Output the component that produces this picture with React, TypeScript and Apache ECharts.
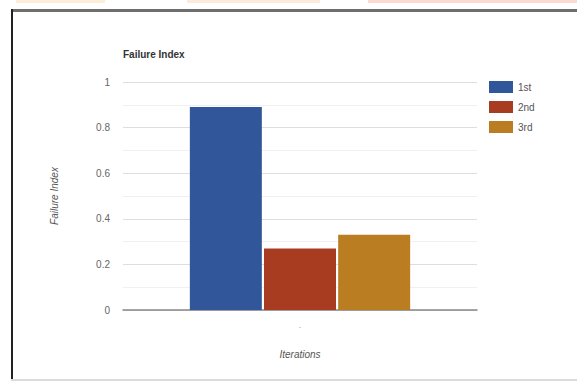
import React, { useEffect, useRef } from "react";
import * as echarts from "echarts";

// Chart data
const categories = ["."];
const seriesNames = ["1st", "2nd", "3rd"];
const seriesValues = [[0.89], [0.27], [0.33]];
const seriesColors = ["#31579a", "#a83c21", "#bb7d21"];
const yTicks = { min: 0, max: 1, interval: 0.2 };

const FONT = "Arial, 'Liberation Sans', sans-serif";

export default function App() {
  const ref = useRef<HTMLDivElement>(null);

  useEffect(() => {
    const prevMargin = document.body.style.margin;
    document.body.style.margin = "0";
    const chart = echarts.init(ref.current!, undefined, { renderer: "svg" });
    chart.setOption({
      animation: false,
      backgroundColor: "#ffffff",
      textStyle: { fontFamily: FONT },
      title: {
        text: "Failure Index",
        left: 118,
        top: 44,
        textStyle: { fontSize: 10, fontWeight: "bold", color: "#333", fontFamily: FONT },
      },
      legend: {
        orient: "vertical",
        left: 484,
        top: 76,
        itemWidth: 24,
        itemHeight: 12,
        itemGap: 8,
        icon: "rect",
        data: seriesNames,
        textStyle: { fontSize: 10, color: "#555", fontFamily: FONT },
      },
      grid: { left: 123, right: 100, top: 82, bottom: 71 },
      xAxis: {
        type: "category",
        data: categories,
        name: "Iterations",
        nameLocation: "middle",
        nameGap: 39,
        nameTextStyle: { fontSize: 10, fontStyle: "italic", color: "#555", fontFamily: FONT },
        axisLine: { show: true, lineStyle: { color: "#888", width: 1.5 } },
        axisTick: { show: false },
        axisLabel: { margin: 10, fontSize: 9, color: "#999" },
      },
      yAxis: {
        type: "value",
        min: yTicks.min,
        max: yTicks.max,
        interval: yTicks.interval,
        name: "Failure Index",
        nameLocation: "middle",
        nameRotate: 90,
        nameGap: 64,
        nameTextStyle: { fontSize: 10, fontStyle: "italic", color: "#555", fontFamily: FONT },
        axisLine: { show: false },
        axisTick: { show: false },
        axisLabel: { margin: 13, fontSize: 10, color: "#666", fontFamily: FONT },
        splitLine: { lineStyle: { color: "#dedede", width: 1 } },
        minorTick: { show: false, splitNumber: 2 },
        minorSplitLine: { show: true, lineStyle: { color: "#f0f0f0", width: 1 } },
      },
      series: seriesNames.map((name, i) => ({
        name,
        type: "bar",
        data: seriesValues[i],
        barWidth: 72,
        barGap: "3%",
        itemStyle: { color: seriesColors[i] },
      })),
      graphic: [
        { type: "rect", shape: { x: 16, y: 0, width: 89, height: 3 }, style: { fill: "#fdecd9" } },
        { type: "rect", shape: { x: 187, y: 0, width: 133, height: 3 }, style: { fill: "#fdeadb" } },
        { type: "rect", shape: { x: 368, y: 0, width: 209, height: 3 }, style: { fill: "#fbdad4" } },
        { type: "rect", shape: { x: 11, y: 9, width: 566, height: 3 }, style: { fill: "#6e6e6e" } },
        { type: "rect", shape: { x: 11, y: 9, width: 2, height: 372 }, style: { fill: "#222" } },
        { type: "rect", shape: { x: 11, y: 379, width: 566, height: 2 }, style: { fill: "#dcdcdc" } },
      ],
    });
    return () => {
      chart.dispose();
      document.body.style.margin = prevMargin;
    };
  }, []);

  return (
    <div
      ref={ref}
      style={{ position: "absolute", left: 0, top: 0, width: 577, height: 381 }}
    />
  );
}
